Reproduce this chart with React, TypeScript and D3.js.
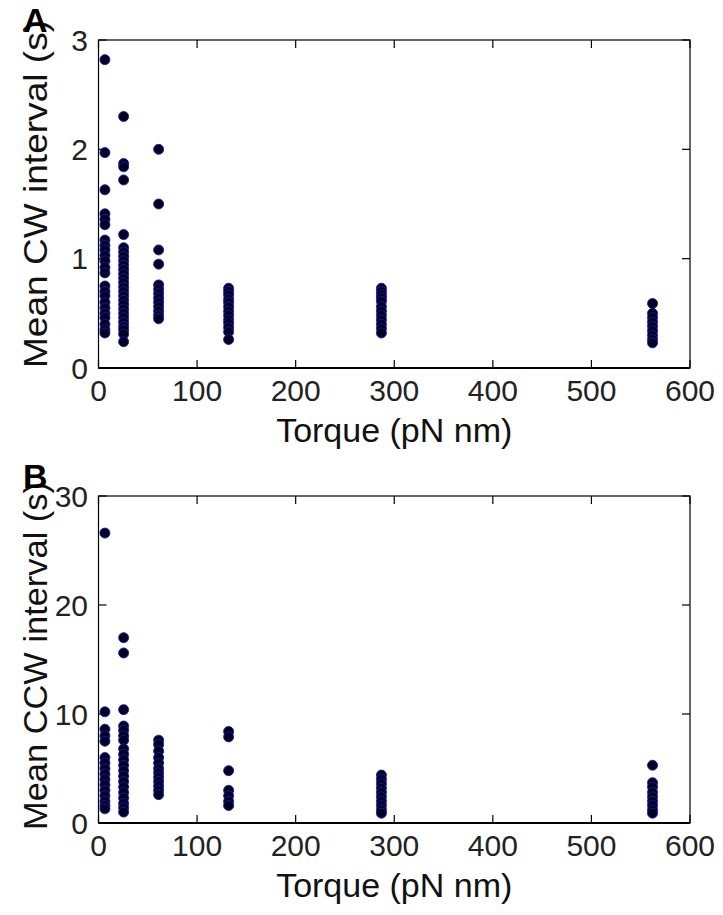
import React from 'react';
import * as d3 from 'd3';

// Torque levels (pN nm), one column of points per level
const torque = [6.5, 25.5, 61, 132, 287, 562];

// Panel A: mean CW interval (s) per torque level
const cwIntervals = [
  [2.82, 1.97, 1.63, 1.41, 1.36, 1.31, 1.17, 1.12, 1.08, 1.03, 0.98, 0.92, 0.87, 0.75, 0.70, 0.66, 0.60, 0.55, 0.50, 0.46, 0.40, 0.35, 0.32],
  [2.30, 1.87, 1.84, 1.72, 1.22, 1.10, 1.06, 1.02, 0.98, 0.94, 0.90, 0.86, 0.82, 0.78, 0.74, 0.70, 0.66, 0.62, 0.58, 0.54, 0.50, 0.46, 0.42, 0.38, 0.35, 0.31, 0.24],
  [2.00, 1.50, 1.08, 0.95, 0.76, 0.72, 0.68, 0.64, 0.60, 0.56, 0.52, 0.48, 0.45],
  [0.73, 0.70, 0.67, 0.63, 0.60, 0.56, 0.52, 0.48, 0.44, 0.41, 0.37, 0.33, 0.26],
  [0.73, 0.70, 0.67, 0.64, 0.61, 0.56, 0.52, 0.48, 0.44, 0.40, 0.36, 0.32],
  [0.59, 0.50, 0.46, 0.42, 0.38, 0.34, 0.30, 0.26, 0.23],
];

// Panel B: mean CCW interval (s) per torque level
const ccwIntervals = [
  [26.6, 10.2, 8.6, 8.0, 7.5, 6.0, 5.5, 5.0, 4.5, 4.0, 3.5, 3.0, 2.5, 2.0, 1.6, 1.3],
  [17.0, 15.6, 10.4, 8.9, 8.5, 8.0, 7.6, 6.8, 6.3, 5.8, 5.3, 4.8, 4.3, 3.8, 3.3, 2.8, 2.3, 1.8, 1.4, 1.0],
  [7.6, 7.2, 6.6, 6.0, 5.5, 5.0, 4.6, 4.2, 3.8, 3.4, 3.0, 2.6],
  [8.4, 7.9, 4.8, 3.0, 2.5, 2.0, 1.6],
  [4.4, 4.0, 3.6, 3.2, 2.8, 2.4, 2.0, 1.6, 1.2, 0.9],
  [5.3, 3.7, 3.3, 2.8, 2.4, 2.0, 1.6, 1.2, 0.9],
];

const xTicks = [0, 100, 200, 300, 400, 500, 600];
const cwTicks = [0, 1, 2, 3];
const ccwTicks = [0, 10, 20, 30];

const font = 'Arial, "Liberation Sans", sans-serif';

type PanelProps = {
  letter: string;
  yLabel: string;
  values: number[][];
  yMax: number;
  yTicks: number[];
  top: number;
  bottom: number;
  labelCenter: number;
};

const Panel = ({ letter, yLabel, values, yMax, yTicks, top, bottom, labelCenter }: PanelProps) => {
  const left = 98.5;
  const right = 690;
  const x = d3.scaleLinear().domain([0, 600]).range([left, right]);
  const y = d3.scaleLinear().domain([0, yMax]).range([bottom, top]);
  const tick = 8;

  const points = values.flatMap((col, i) => col.map(v => ({ t: torque[i], v })));

  return (
    <g>
      {/* frame */}
      <rect x={left} y={top} width={right - left} height={bottom - top} fill="none" stroke="#000" strokeWidth={1.2} />
      <line x1={left} x2={right} y1={bottom} y2={bottom} stroke="#000" strokeWidth={2} />

      {/* x ticks, inward on both edges */}
      {xTicks.map(t => (
        <g key={`x${t}`}>
          <line x1={x(t)} x2={x(t)} y1={bottom} y2={bottom - tick} stroke="#000" strokeWidth={1.2} />
          <line x1={x(t)} x2={x(t)} y1={top} y2={top + tick} stroke="#000" strokeWidth={1.2} />
          <text x={x(t)} y={bottom + 33} textAnchor="middle" fontSize={30} fontFamily={font} fill="#222">{t}</text>
        </g>
      ))}

      {/* y ticks */}
      {yTicks.map(t => (
        <g key={`y${t}`}>
          <line x1={left} x2={left + tick} y1={y(t)} y2={y(t)} stroke="#000" strokeWidth={1.2} />
          <line x1={right} x2={right - tick} y1={y(t)} y2={y(t)} stroke="#000" strokeWidth={1.2} />
          <text x={88} y={y(t)} dy="0.36em" textAnchor="end" fontSize={30} fontFamily={font} fill="#222">{t}</text>
        </g>
      ))}

      {points.map((p, i) => (
        <circle key={i} cx={x(p.t)} cy={y(p.v)} r={5} fill="#00001e" stroke="#1a1ab4" strokeWidth={0.9} />
      ))}

      <text x={(left + right) / 2} y={bottom + 74} textAnchor="middle" fontSize={34} fontFamily={font} fill="#111">
        Torque (pN nm)
      </text>
      <text
        transform={`translate(47,${labelCenter}) rotate(-90)`}
        textAnchor="middle"
        fontSize={34}
        fontFamily={font}
        fill="#111"
        textLength={348}
        lengthAdjust="spacingAndGlyphs"
      >
        {yLabel}
      </text>
      <text x={23} y={top - 8} fontSize={34} fontWeight="bold" fontFamily={font} fill="#000">{letter}</text>
    </g>
  );
};

export default function App() {
  return (
    <svg
      width={723}
      height={915}
      style={{ position: 'absolute', left: 0, top: 0, background: '#fff' }}
    >
      <rect width={723} height={915} fill="#fff" />
      <Panel letter="A" yLabel="Mean CW interval (s)" values={cwIntervals} yMax={3} yTicks={cwTicks} top={40} bottom={368} labelCenter={194} />
      <Panel letter="B" yLabel="Mean CCW interval (s)" values={ccwIntervals} yMax={30} yTicks={ccwTicks} top={496} bottom={823} labelCenter={656} />
    </svg>
  );
}
